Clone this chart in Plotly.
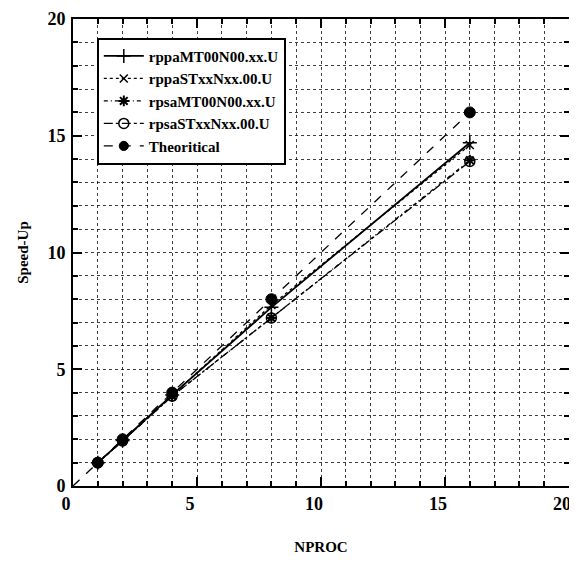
import plotly.graph_objects as go

nproc = [1, 2, 4, 8, 16]
rppaMT = [1.0, 1.95, 3.9, 7.65, 14.7]
rppaST = [1.0, 1.95, 3.9, 7.75, 14.6]
rpsaMT = [1.0, 1.93, 3.85, 7.2, 13.95]
rpsaST = [1.0, 1.93, 3.85, 7.2, 13.9]
theo_x = [0, 1, 2, 4, 8, 16]
theo_y = [0, 1, 2, 4, 8, 16]

names = ["rppaMT00N00.xx.U", "rppaSTxxNxx.00.U", "rpsaMT00N00.xx.U", "rpsaSTxxNxx.00.U", "Theoritical"]

fig = go.Figure()
fig.add_trace(go.Scatter(x=nproc, y=rppaMT, name=names[0], mode="lines+markers",
                         line=dict(color="black", width=1.8, dash="solid"),
                         marker=dict(symbol="cross-thin-open", size=10, color="black", opacity=1,
                                     line=dict(width=1.5, color="black"))))
fig.add_trace(go.Scatter(x=nproc, y=rppaST, name=names[1], mode="lines+markers",
                         line=dict(color="black", width=1.3, dash="dot"),
                         marker=dict(symbol="x-thin-open", size=8, color="black", opacity=1,
                                     line=dict(width=1.5, color="black"))))
fig.add_trace(go.Scatter(x=nproc, y=rpsaMT, name=names[2], mode="lines+markers",
                         line=dict(color="black", width=1.3, dash="4px,3px,1px,3px"),
                         marker=dict(symbol="asterisk-open", size=9, color="black", opacity=1,
                                     line=dict(width=2, color="black"))))
fig.add_trace(go.Scatter(x=nproc, y=rpsaST, name=names[3], mode="lines+markers",
                         line=dict(color="black", width=1.3, dash="dashdot"),
                         marker=dict(symbol="circle-open", size=10, color="black", opacity=1,
                                     line=dict(width=1.5, color="black"))))
fig.add_trace(go.Scatter(x=theo_x, y=theo_y, name=names[4], mode="lines+markers",
                         line=dict(color="black", width=1.3, dash="dash"),
                         marker=dict(symbol="circle", size=[0, 11, 11, 11, 11, 11], color="black", opacity=1,
                                     line=dict(width=1, color="black"))))

tickfont = dict(family="Liberation Serif", size=18, color="black")
axis_common = dict(
    range=[0, 20], dtick=5, tick0=0, automargin=False,
    showline=True, linewidth=2, linecolor="black", mirror="allticks",
    ticks="inside", ticklen=9, tickwidth=2, tickcolor="black",
    showgrid=True, gridcolor="rgba(0,0,0,0.75)", gridwidth=1, griddash="dot",
    zeroline=False, tickfont=tickfont, ticklabeloverflow="allow",
    tickprefix="<b>", ticksuffix="</b>",
    minor=dict(dtick=1, ticks="inside", ticklen=5, tickwidth=1.5, tickcolor="black",
               showgrid=True, gridcolor="rgba(0,0,0,0.75)", gridwidth=1, griddash="dot"),
)

fig.update_xaxes(**axis_common, ticklabelshift=-7,
                 title=dict(text="<b>NPROC</b>", font=dict(family="Liberation Serif", size=15, color="black"), standoff=29))
fig.update_yaxes(**axis_common, ticklabelstandoff=2,
                 title=dict(text="<b>Speed-Up</b>", font=dict(family="Liberation Serif", size=15, color="black"), standoff=15))

# the page body keeps an 8px default margin, so the figure is sized to fit the window with it
fig.update_layout(
    width=569, height=560,
    margin=dict(l=65, r=8, t=11, b=82),
    paper_bgcolor="white", plot_bgcolor="white",
    showlegend=True,
    legend=dict(x=0.048, y=0.96, xanchor="left", yanchor="top",
                bgcolor="white", bordercolor="black", borderwidth=2,
                font=dict(family="Liberation Serif", size=15, color="black"),
                tracegroupgap=0, itemwidth=40),
)
for tr in fig.data:
    tr.name = "<b>" + tr.name + "</b>"

fig.write_html("out.html")
